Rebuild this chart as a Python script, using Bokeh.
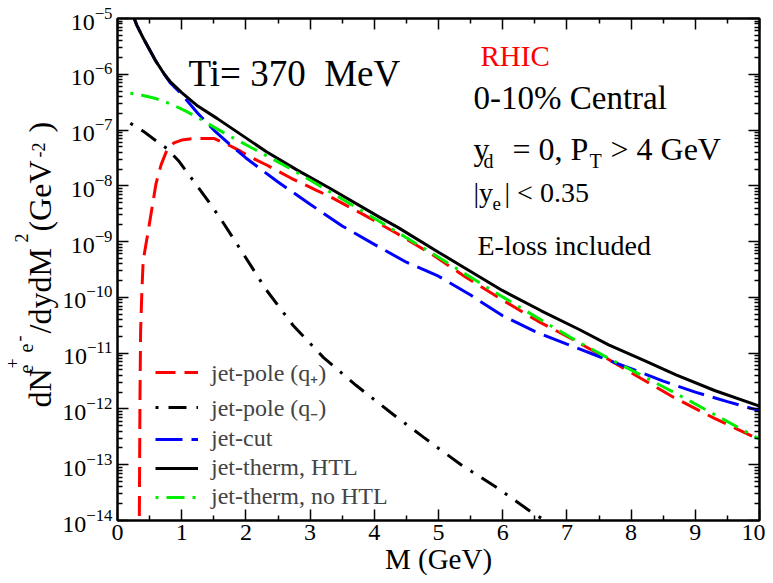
import math
from bokeh.plotting import figure
from bokeh.layouts import row
from bokeh.models import (LinearAxis, LogAxis, FixedTicker, Label, Legend, LegendItem,
                          Range1d, CustomJSTickFormatter, ColumnDataSource)
from bokeh.core.properties import value
from bokeh.embed import file_html
from bokeh.resources import INLINE

FONT = "Liberation Serif"

# ---------------- data ----------------
# jet-therm, HTL (black solid)
m_htl = [0.20, 0.26, 0.30, 0.40, 0.50, 0.60, 0.73, 0.82, 1.00, 1.25, 1.55, 2.00, 2.32, 2.80,
         3.30, 4.08, 4.36, 5.00, 5.39, 6.00, 6.60, 7.20, 7.65, 8.20, 8.70, 9.30, 10.0]
y_htl = [1.58e-5, 1.0e-5, 7.6e-6, 4.47e-6, 2.75e-6, 1.70e-6, 1.0e-6, 7.41e-7, 4.68e-7, 2.69e-7,
         1.62e-7, 7.24e-8, 4.07e-8, 1.91e-8, 9.12e-9, 2.75e-9, 1.82e-9, 6.46e-10, 3.47e-10,
         1.32e-10, 5.75e-11, 2.63e-11, 1.41e-11, 7.41e-12, 4.07e-12, 2.14e-12, 1.12e-12]

# jet-cut (blue long dash)
m_cut = [0.20, 0.26, 0.30, 0.40, 0.50, 0.60, 0.73, 0.82, 1.00, 1.25, 1.50, 1.75, 2.00, 2.50,
         3.00, 3.50, 4.00, 4.50, 5.00, 5.50, 6.00, 6.50, 7.00, 7.50, 8.00, 8.50, 9.00, 9.50, 10.0]
y_cut = [1.58e-5, 1.0e-5, 7.6e-6, 4.47e-6, 2.75e-6, 1.70e-6, 1.0e-6, 7.08e-7, 4.37e-7, 2.0e-7,
         1.0e-7, 5.5e-8, 3.16e-8, 1.17e-8, 4.68e-9, 1.91e-9, 8.91e-10, 4.27e-10, 2.40e-10,
         1.10e-10, 4.68e-11, 2.45e-11, 1.45e-11, 8.71e-12, 5.25e-12, 3.16e-12, 2.0e-12,
         1.35e-12, 9.33e-13]

# jet-pole (q+) (red dash)
m_qp = [0.335, 0.34, 0.35, 0.36, 0.38, 0.40, 0.44, 0.48, 0.54, 0.60, 0.68, 0.77, 0.88, 1.00,
        1.20, 1.50, 1.70, 1.90, 2.10, 2.33, 2.70, 3.10, 3.32, 3.84, 4.36, 4.90, 5.39, 6.00,
        6.54, 7.10, 7.63, 8.15, 8.66, 9.30, 10.0]
y_qp = [1.0e-16, 1.0e-14, 1.58e-12, 2.51e-11, 1.32e-10, 4.57e-10, 8.51e-10, 1.58e-9, 4.17e-9,
        1.10e-8, 2.40e-8, 4.37e-8, 5.89e-8, 6.61e-8, 7.08e-8, 7.08e-8, 5.62e-8, 4.27e-8,
        3.16e-8, 2.34e-8, 1.38e-8, 8.32e-9, 6.31e-9, 3.02e-9, 1.38e-9, 5.89e-10, 2.45e-10,
        8.91e-11, 3.80e-11, 1.74e-11, 7.94e-12, 3.55e-12, 1.62e-12, 6.76e-13, 2.82e-13]

# jet-pole (q-) (black dash-dot)
m_qm = [0.20, 0.40, 0.61, 0.78, 0.95, 1.19, 1.40, 1.60, 1.96, 2.32, 2.74, 3.21, 3.72, 4.25,
        4.77, 5.34, 5.91, 6.46, 6.66, 6.90]
y_qm = [1.32e-7, 9.55e-8, 6.31e-8, 4.57e-8, 2.82e-8, 1.20e-8, 5.62e-9, 2.63e-9, 6.03e-10,
        1.35e-10, 3.09e-11, 8.32e-12, 2.63e-12, 8.71e-13, 3.09e-13, 1.02e-13, 3.89e-14,
        1.38e-14, 1.0e-14, 6.31e-15]

# jet-therm, no HTL (green dash-dot)
m_nohtl = [0.20, 0.40, 0.61, 0.85, 1.08, 1.30, 1.49, 1.75, 2.06, 2.40, 2.69, 3.05, 3.40, 3.84,
           4.40, 4.90, 5.39, 6.00, 6.69, 7.15, 7.63, 8.15, 8.66, 9.30, 10.0]
y_nohtl = [4.57e-7, 4.17e-7, 3.63e-7, 2.88e-7, 2.14e-7, 1.55e-7, 1.15e-7, 7.76e-8, 5.01e-8,
           3.09e-8, 2.04e-8, 1.17e-8, 6.76e-9, 3.39e-9, 1.38e-9, 6.17e-10, 2.75e-10,
           1.02e-10, 3.39e-11, 1.66e-11, 8.32e-12, 4.07e-12, 2.0e-12, 7.94e-13, 2.88e-13]

labels = ["jet-pole (q\u208A)", "jet-pole (q\u208B)", "jet-cut", "jet-therm, HTL",
          "jet-therm, no HTL"]

x_ticks = [0, 1, 2, 3, 4, 5, 6, 7, 8, 9, 10]
x_minor = [0.5, 1.5, 2.5, 3.5, 4.5, 5.5, 6.5, 7.5, 8.5, 9.5]
y_exps = [-14, -13, -12, -11, -10, -9, -8, -7, -6, -5]

# ---------------- layout constants (page pixels) ----------------
TITLE_W = 59          # narrow side panel holding the rotated y title
PAGE_H = 583
FX0, FX1, FY0, FY1 = 117.0, 759.0, 18.0, 520.0   # frame edges on the page

# ---------------- main figure ----------------
p = figure(width=int(FX1 + 6 - TITLE_W), height=PAGE_H,
           x_range=Range1d(0, 10), y_range=Range1d(1e-14, 1e-5),
           y_axis_type="log", output_backend="svg", toolbar_location=None,
           min_border_left=int(FX0 - TITLE_W), min_border_right=6,
           min_border_top=int(FY0), min_border_bottom=int(PAGE_H - FY1))
p.grid.visible = False
p.outline_line_color = "black"
p.outline_line_width = 2
p.background_fill_color = "white"
p.border_fill_color = "white"

xt = FixedTicker(ticks=x_ticks, minor_ticks=x_minor)
yt = FixedTicker(ticks=[10.0 ** e for e in y_exps],
                 minor_ticks=[k * 10.0 ** e for e in y_exps[:-1] for k in range(2, 10)])


def style_axis(ax, show_labels=True):
    ax.axis_line_width = 2
    ax.axis_line_color = "black"
    ax.major_tick_in = 11
    ax.major_tick_out = 0
    ax.minor_tick_in = 5
    ax.minor_tick_out = 0
    ax.major_tick_line_width = 1.5
    ax.minor_tick_line_width = 1.5
    ax.major_tick_line_color = "black"
    ax.minor_tick_line_color = "black"
    if show_labels:
        ax.major_label_text_font = FONT
        ax.major_label_text_font_size = "24px"
        ax.major_label_text_color = "black"
        ax.major_label_standoff = 5
    else:
        ax.formatter = CustomJSTickFormatter(code="return ''")
        ax.major_label_text_font_size = "1px"
        ax.major_label_standoff = 0


p.xaxis.ticker = xt
p.yaxis.ticker = yt
for ax in p.xaxis:
    style_axis(ax)
    ax.major_label_standoff = 4
    ax.axis_label = "M (GeV)"
    ax.axis_label_text_font = FONT
    ax.axis_label_text_font_size = "29px"
    ax.axis_label_text_font_style = "normal"
    ax.axis_label_text_color = "black"
    ax.axis_label_standoff = 0
for ax in p.yaxis:
    style_axis(ax)

top = LinearAxis(ticker=xt)
style_axis(top, show_labels=False)
p.add_layout(top, "above")
right = LogAxis(ticker=yt)
style_axis(right, show_labels=False)
p.add_layout(right, "right")

# ---------------- curves ----------------
r_qp = p.line(m_qp, y_qp, line_color="#ff0000", line_width=3, line_dash="20 9")
r_qm = p.line(m_qm, y_qm, line_color="black", line_width=3, line_dash="3 10 18 10")
r_cut = p.line(m_cut, y_cut, line_color="#0000ff", line_width=3, line_dash="27 9")
r_htl = p.line(m_htl, y_htl, line_color="black", line_width=3)
r_nohtl = p.line(m_nohtl, y_nohtl, line_color="#00ee00", line_width=3, line_dash="3 8 18 8")

legend = Legend(items=[LegendItem(label=labels[0], renderers=[r_qp]),
                       LegendItem(label=labels[1], renderers=[r_qm]),
                       LegendItem(label=labels[2], renderers=[r_cut]),
                       LegendItem(label=labels[3], renderers=[r_htl]),
                       LegendItem(label=labels[4], renderers=[r_nohtl])],
                location=(38, 10), padding=0, margin=0, spacing=2,
                glyph_width=43, glyph_height=20, label_height=20, label_standoff=13,
                label_text_font=FONT, label_text_font_size="24px",
                border_line_alpha=0, background_fill_alpha=0)
p.add_layout(legend, "center")


# ---------------- text inside the frame ----------------
def px2x(px):
    return (px - FX0) / (FX1 - FX0) * 10.0


def py2y(py):
    return 10.0 ** (-5.0 - (py - FY0) / (FY1 - FY0) * 9.0)


def add_text(txt, px, py, size, color="black", align="left"):
    p.add_layout(Label(x=px2x(px), y=py2y(py), text=txt, text_font=FONT,
                       text_font_size=f"{size}px", text_color=color,
                       text_align=align, text_baseline="alphabetic"))


add_text("Ti= 370 \u00a0MeV", 188, 73, 37)
add_text("RHIC", 480, 55, 29, color="#ff0000")
add_text("0-10% Central", 473, 97, 33)
add_text("y", 473, 148, 32)
add_text("d", 483, 160, 20)
add_text("= 0, P", 512, 148, 32)
add_text("T", 589, 160, 20)
add_text("> 4 GeV", 610, 148, 32)
add_text("|y", 473, 192, 28)
add_text("e", 492, 203, 19)
add_text("| < 0.35", 504, 192, 28)
add_text("E-loss included", 477, 245, 28)

# ---------------- y title panel (rotated, composed of pieces) ----------------
# In a row, this panel's frame is aligned with the main frame (page y FY0..FY1),
# so its y range is expressed as (PAGE_H - page_y) over that span.
t = figure(width=TITLE_W, height=PAGE_H, x_range=Range1d(0, TITLE_W),
           y_range=Range1d(PAGE_H - FY1, PAGE_H - FY0), output_backend="svg",
           toolbar_location=None, x_axis_location=None, y_axis_location=None,
           min_border_left=0, min_border_right=0, min_border_top=int(FY0),
           min_border_bottom=int(PAGE_H - FY1))
t.grid.visible = False
t.outline_line_color = None
t.background_fill_color = "white"
t.border_fill_color = "white"

# centres of each piece, in page pixels (x from left, y from top)
piece_text = ["dN", "e", "e", "+", "-", "/dydM", "2", "(GeV", "-2", ")"]
piece_cx = [39.6, 25.2, 25.2, 11.9, 18.4, 39.6, 20.9, 39.6, 37.9, 39.6]
piece_cy = [387.5, 368.6, 347.6, 362.9, 338.0, 290.3, 237.5, 195.5, 149.5, 126.7]
piece_size = ["32px", "20px", "20px", "18px", "18px", "32px", "18px", "32px", "18px", "32px"]

title_src = ColumnDataSource(dict(text=piece_text, x=piece_cx,
                                  y=[PAGE_H - v for v in piece_cy], size=piece_size))
t.text(x="x", y="y", text="text", source=title_src, angle=math.pi / 2,
       text_font=value(FONT), text_font_size="size", text_color="black",
       text_align="center", text_baseline="middle")

layout = row(t, p, spacing=0)
open("out.html", "w").write(file_html(layout, INLINE))
